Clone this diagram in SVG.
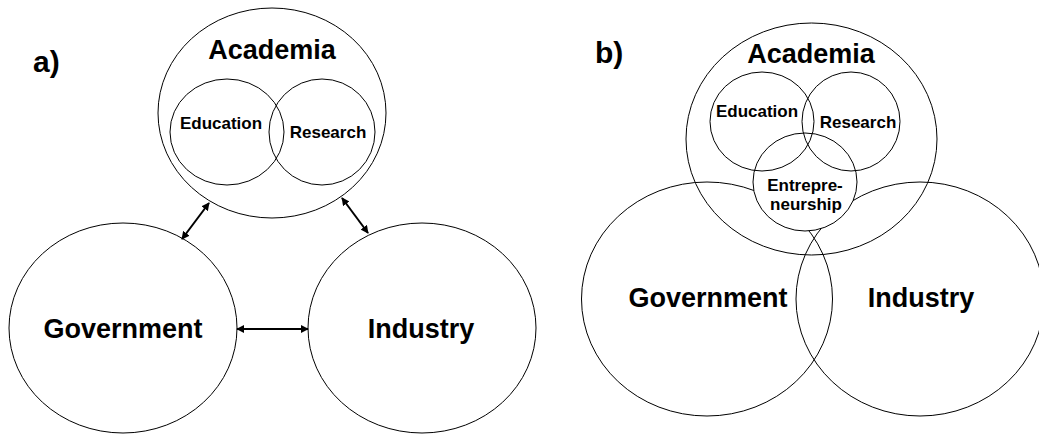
<svg xmlns="http://www.w3.org/2000/svg" width="1039" height="434" viewBox="0 0 1039 434">
  <style>
    .ring { fill: none; stroke: #000; stroke-width: 1; }
    .solid { fill: #fff; stroke: #000; stroke-width: 1; }
    .lbl { font-family: "Liberation Sans", Arial, sans-serif; font-weight: bold; fill: #000; text-anchor: middle; }
    .big { font-size: 27px; }
    .small { font-size: 17px; }
    .tag { font-size: 30px; text-anchor: start; }
    .link { stroke: #000; stroke-width: 2; fill: none; marker-start: url(#head); marker-end: url(#head); }
  </style>
  <defs>
    <marker id="head" viewBox="0 0 10 10" refX="9" refY="5" markerWidth="4" markerHeight="4" orient="auto-start-reverse" markerUnits="strokeWidth">
      <path d="M0,0 L10,5 L0,10 Z" fill="#000"/>
    </marker>
  </defs>
  <rect width="1039" height="434" fill="#fff"/>

  <!-- panel a: three separate spheres linked by arrows -->
  <text class="lbl tag" x="33" y="72">a)</text>

  <g id="a-academia">
    <ellipse class="ring" cx="272" cy="113" rx="114" ry="105"/>
    <text class="lbl big" x="272" y="59">Academia</text>
  </g>
  <g id="a-education">
    <ellipse class="ring" cx="227" cy="132" rx="57" ry="53"/>
    <text class="lbl small" x="221" y="129">Education</text>
  </g>
  <g id="a-research">
    <ellipse class="ring" cx="322" cy="132" rx="53" ry="53"/>
    <text class="lbl small" x="328" y="138">Research</text>
  </g>
  <g id="a-government">
    <ellipse class="ring" cx="123" cy="328" rx="114" ry="105"/>
    <text class="lbl big" x="123" y="338">Government</text>
  </g>
  <g id="a-industry">
    <ellipse class="ring" cx="422" cy="328" rx="114" ry="105"/>
    <text class="lbl big" x="421" y="338">Industry</text>
  </g>

  <g id="a-links">
    <line class="link" x1="209" y1="203" x2="182" y2="239"/>
    <line class="link" x1="342" y1="198" x2="368" y2="233"/>
    <line class="link" x1="237" y1="329" x2="308" y2="329"/>
  </g>

  <!-- panel b: overlapping spheres -->
  <text class="lbl tag" x="595" y="63">b)</text>

  <g id="b-government">
    <ellipse class="ring" cx="707" cy="299" rx="125.5" ry="117"/>
    <text class="lbl big" x="708" y="307">Government</text>
  </g>
  <g id="b-industry">
    <ellipse class="ring" cx="920" cy="299" rx="124" ry="117"/>
    <text class="lbl big" x="921" y="307">Industry</text>
  </g>
  <g id="b-academia">
    <ellipse class="ring" cx="811.5" cy="139" rx="125.5" ry="116"/>
    <text class="lbl big" x="811" y="63">Academia</text>
  </g>
  <g id="b-entrepreneurship">
    <ellipse class="solid" cx="805" cy="182" rx="52" ry="49"/>
    <text class="lbl small" x="805" y="191">Entrepre-</text>
    <text class="lbl small" x="806" y="210">neurship</text>
  </g>
  <g id="b-education">
    <ellipse class="ring" cx="762" cy="121.5" rx="52" ry="49.5"/>
    <text class="lbl small" x="757" y="117">Education</text>
  </g>
  <g id="b-research">
    <ellipse class="ring" cx="851" cy="121.5" rx="49" ry="49.5"/>
    <text class="lbl small" x="858" y="128">Research</text>
  </g>
</svg>
